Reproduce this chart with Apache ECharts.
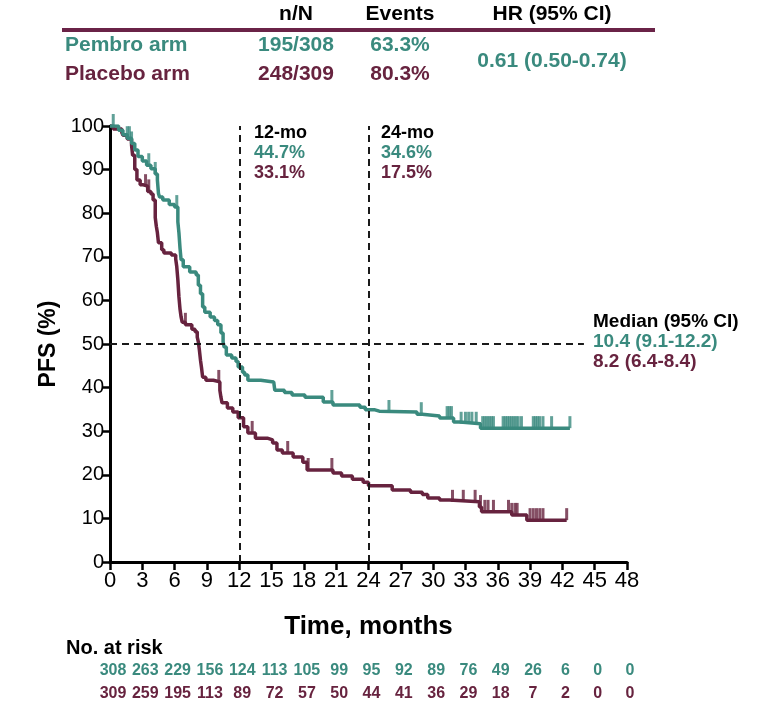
<!DOCTYPE html>
<html><head><meta charset="utf-8">
<script src="https://cdn.jsdelivr.net/npm/echarts@6/dist/echarts.min.js"></script>
<style>html,body{margin:0;padding:0;background:#fff}#c{width:764px;height:705px}</style>
</head><body><div id="c"></div>
<script>
const FONT = '"Liberation Sans", Arial, Helvetica, sans-serif';
const TEAL = '#3a8a7e';
const MAROON = '#67233f';

const xTicks = [0,3,6,9,12,15,18,21,24,27,30,33,36,39,42,45,48];
const pembroAtRisk = [308,263,229,156,124,113,105,99,95,92,89,76,49,26,6,0,0];
const placeboAtRisk = [309,259,195,113,89,72,57,50,44,41,36,29,18,7,2,0,0];

const pembroKM = [[0,100],[0.8,99],[1.2,98],[1.6,97.2],[2.0,96],[2.3,94.5],[2.6,93],[3.0,92],[3.4,91],[3.8,90.2],[4.2,89],[4.4,87.6],[4.5,84.5],[4.6,83.7],[4.9,83],[5.5,82],[6.0,81.4],[6.3,78],[6.4,75.5],[6.5,72],[6.6,69.3],[6.8,67.7],[7.4,66.5],[8.0,65.8],[8.2,63.5],[8.4,61.5],[8.6,58.5],[8.8,57.3],[9.3,56.2],[9.7,55.4],[10.0,54.4],[10.3,52.5],[10.5,50.5],[10.6,49.3],[10.8,47.5],[11.3,46.8],[11.7,46.0],[11.9,44.7],[12.3,43.5],[12.5,42.9],[12.8,41.7],[14.0,41.3],[15.2,41.0],[15.3,39.4],[16.2,38.9],[16.9,38.3],[18.1,37.8],[19.8,36.7],[20.7,36.0],[23.2,35.5],[23.7,34.9],[24.6,34.6],[25.0,34.4],[28.5,33.9],[29.0,33.5],[30.6,33.0],[31.9,32.1],[32.5,31.7],[34.4,30.7],[42.7,30.7]];
const pembroCensor = [[0.3,100],[1.6,97.2],[1.8,97.2],[2.0,96],[3.6,91],[4.2,89],[6.2,81.4],[20.6,36.7],[25.9,34.4],[28.9,33.9],[31.3,33.0],[31.5,33.0],[31.7,33.0],[32.6,31.7],[33.0,31.7],[33.3,31.7],[33.6,31.7],[34.0,31.7],[34.6,30.7],[34.8,30.7],[35.0,30.7],[35.2,30.7],[35.4,30.7],[35.6,30.7],[36.5,30.7],[36.7,30.7],[36.9,30.7],[37.1,30.7],[37.3,30.7],[37.5,30.7],[37.7,30.7],[37.9,30.7],[38.2,30.7],[39.3,30.7],[39.5,30.7],[39.7,30.7],[39.9,30.7],[40.2,30.7],[41.0,30.7],[42.7,30.7]];

const placeboKM = [[0,100],[0.3,99.3],[1.1,98.5],[1.2,97.9],[1.6,97],[2.0,95.6],[2.1,93.3],[2.3,90],[2.5,87.6],[2.8,86.5],[3.1,86.2],[3.5,85],[3.8,84.4],[4.0,83],[4.2,79],[4.3,77],[4.4,75.5],[4.5,73.2],[4.8,71.6],[5.0,70.9],[5.7,70.4],[6.1,69.5],[6.2,67.7],[6.3,64.7],[6.4,60.8],[6.5,58],[6.6,56.2],[6.7,55.0],[7.0,54.4],[7.6,53.4],[7.9,52.8],[8.1,51.6],[8.2,50.5],[8.3,48.6],[8.4,46.3],[8.5,44.5],[8.6,42.4],[8.9,41.7],[9.6,41.3],[10.2,39.4],[10.3,37.8],[10.4,36.5],[10.9,35.3],[11.4,34.4],[11.9,33.1],[12.4,31],[12.8,29.6],[13.5,28.4],[14.6,28],[15.1,27.3],[15.5,25.7],[16.0,25.0],[17.0,24.1],[17.9,22.9],[18.3,21.1],[20.7,20.4],[21.5,19.7],[22.5,19.0],[23.5,18.3],[24.0,17.5],[26.2,16.5],[27.9,16.0],[29.0,15.5],[29.5,14.7],[30.6,14.2],[31.5,13.8],[34.3,12.6],[34.5,11.5],[37.3,10.8],[38.7,9.6],[42.4,9.6]];
const placeboCensor = [[3.3,86.2],[3.6,85],[7.0,54.4],[10.1,41.3],[13.2,29.6],[16.5,25.0],[18.4,21.1],[20.6,21.1],[31.8,13.8],[32.8,13.8],[33.9,13.8],[34.4,12.6],[34.8,11.5],[35.1,11.5],[35.6,11.5],[37.0,11.5],[37.3,10.8],[37.6,10.8],[37.8,10.8],[39.0,9.6],[39.3,9.6],[39.6,9.6],[39.9,9.6],[40.2,9.6],[42.4,9.6]];

const milestones = [12, 24];
const medianLevel = 50;
const medianLineEnd = 44;

const chart = echarts.init(document.getElementById('c'), null, {renderer: 'canvas'});

function txt(text, x, y, fill, size, align, bold) {
  return {type: 'text', x: x, y: y, silent: true, style: {text: text, fill: fill,
    font: (bold === false ? '' : 'bold ') + size + 'px ' + FONT, align: align || 'left', verticalAlign: 'middle'}};
}

const dashStyle = {color: '#1a1a1a', width: 2, type: [7, 5]};

const option = {
  backgroundColor: '#fff',
  animation: false,
  grid: {left: 110, top: 126, width: 517, height: 436, containLabel: false},
  xAxis: {
    type: 'value', min: 0, max: 48, interval: 3,
    name: 'Time, months', nameLocation: 'middle', nameGap: 52,
    nameTextStyle: {fontFamily: FONT, fontWeight: 'bold', fontSize: 26, color: '#000'},
    axisLine: {lineStyle: {color: '#000', width: 3}},
    axisTick: {show: true, length: 8, lineStyle: {color: '#000', width: 2.5}},
    axisLabel: {fontFamily: FONT, fontSize: 22, color: '#000', margin: 8},
    splitLine: {show: false}
  },
  yAxis: {
    type: 'value', min: 0, max: 100, interval: 10,
    name: 'PFS (%)', nameLocation: 'middle', nameGap: 40, nameRotate: 90,
    nameTextStyle: {fontFamily: FONT, fontWeight: 'bold', fontSize: 23, color: '#000'},
    axisLine: {show: true, lineStyle: {color: '#000', width: 3}},
    axisTick: {show: true, length: 8, lineStyle: {color: '#000', width: 2.5}},
    axisLabel: {fontFamily: FONT, fontSize: 20, color: '#000', margin: 6},
    splitLine: {show: false}
  },
  series: [
    {
      type: 'line', name: 'ref', data: [], silent: true,
      markLine: {
        silent: true, symbol: ['none', 'none'], label: {show: false},
        lineStyle: dashStyle,
        data: [
          [{coord: [milestones[0], 0]}, {coord: [milestones[0], 100]}],
          [{coord: [milestones[1], 0]}, {coord: [milestones[1], 100]}],
          [{coord: [0, medianLevel]}, {coord: [medianLineEnd, medianLevel]}]
        ]
      }
    },
    {type: 'line', name: 'Placebo arm', data: placeboKM, step: 'end', showSymbol: false, silent: true,
      lineStyle: {color: MAROON, width: 3.5}, itemStyle: {color: MAROON}, z: 3},
    {type: 'line', name: 'Pembro arm', data: pembroKM, step: 'end', showSymbol: false, silent: true,
      lineStyle: {color: TEAL, width: 3.5}, itemStyle: {color: TEAL}, z: 4},
    {type: 'scatter', data: placeboCensor, symbol: 'rect', symbolSize: [3, 12], symbolOffset: [0, -6],
      itemStyle: {color: MAROON}, silent: true, clip: false, z: 3},
    {type: 'scatter', data: pembroCensor, symbol: 'rect', symbolSize: [3, 12], symbolOffset: [0, -6],
      itemStyle: {color: TEAL}, silent: true, clip: false, z: 4}
  ]
};
chart.setOption(option);

const g = [];
// header table
g.push(txt('n/N', 296, 14, '#000', 21, 'center'));
g.push(txt('Events', 400, 14, '#000', 21, 'center'));
g.push(txt('HR (95% CI)', 552, 14, '#000', 21, 'center'));
g.push({type: 'rect', shape: {x: 62, y: 28, width: 593, height: 4}, style: {fill: '#6a2347'}, silent: true});
g.push(txt('Pembro arm', 65, 45, TEAL, 21, 'left'));
g.push(txt('195/308', 296, 45, TEAL, 21, 'center'));
g.push(txt('63.3%', 400, 45, TEAL, 21, 'center'));
g.push(txt('Placebo arm', 65, 74, MAROON, 21, 'left'));
g.push(txt('248/309', 296, 74, MAROON, 21, 'center'));
g.push(txt('80.3%', 400, 74, MAROON, 21, 'center'));
g.push(txt('0.61 (0.50-0.74)', 552, 61, TEAL, 21, 'center'));
// milestone annotations
g.push(txt('12-mo', 254, 133, '#000', 18, 'left'));
g.push(txt('44.7%', 254, 153, TEAL, 18, 'left'));
g.push(txt('33.1%', 254, 173, MAROON, 18, 'left'));
g.push(txt('24-mo', 381, 133, '#000', 18, 'left'));
g.push(txt('34.6%', 381, 153, TEAL, 18, 'left'));
g.push(txt('17.5%', 381, 173, MAROON, 18, 'left'));
// median
g.push(txt('Median (95% CI)', 593, 322, '#000', 19, 'left'));
g.push(txt('10.4 (9.1-12.2)', 593, 342, TEAL, 19, 'left'));
g.push(txt('8.2 (6.4-8.4)', 593, 362, MAROON, 19, 'left'));
// at risk
g.push(txt('No. at risk', 66, 648, '#000', 20, 'left'));
xTicks.forEach(function (t, i) {
  const px = chart.convertToPixel({xAxisIndex: 0}, t);
  g.push(txt(String(pembroAtRisk[i]), px + 3, 671, TEAL, 16, 'center'));
  g.push(txt(String(placeboAtRisk[i]), px + 3, 694, MAROON, 16, 'center'));
});
chart.setOption({graphic: g});
</script></body></html>
